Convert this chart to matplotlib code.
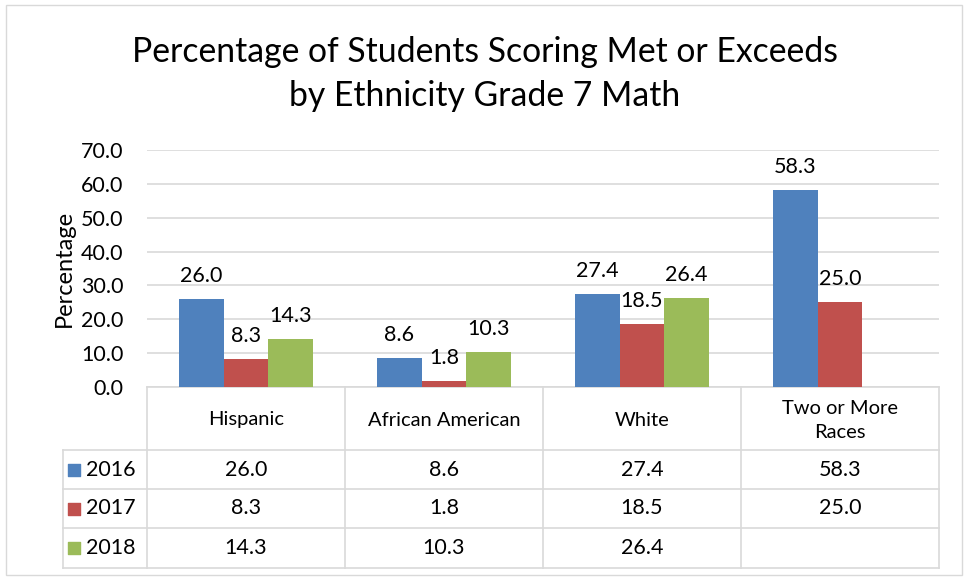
"""
grade 7 math met/exceeds by ethnicity - bar chart with data table
"""
import matplotlib
matplotlib.use("Agg")
import matplotlib.pyplot as plt
import numpy as np

categories = ["Hispanic", "African American", "White", "Two or More\nRaces"]
years = ["2016", "2017", "2018"]
vals_2016 = [26.0, 8.6, 27.4, 58.3]
vals_2017 = [8.3, 1.8, 18.5, 25.0]
vals_2018 = [14.3, 10.3, 26.4, np.nan]
series = [vals_2016, vals_2017, vals_2018]
colors = ["#4F81BD", "#C0504D", "#9BBB59"]
yticks = [0, 10, 20, 30, 40, 50, 60, 70]

plt.rcParams["font.family"] = ["Lato", "DejaVu Sans"]
grid_col = "#D9D9D9"
W, H = 969, 580
num_fs = 15.5
word_fs = 14.5

fig = plt.figure(figsize=(W / 100, H / 100), dpi=100)
fig.patch.set_facecolor("white")
fig.add_artist(plt.Rectangle((6 / W, 5 / H), 956 / W, 570 / H, transform=fig.transFigure,
                             fill=False, edgecolor=grid_col, lw=1))

# plot area (pixels) 147..939 x 150..387
ax = fig.add_axes([147 / W, 1 - 387 / H, 792 / W, 237 / H])
x = np.arange(len(categories))
bw = 0.225
for i, (vals, c) in enumerate(zip(series, colors)):
    pos = x + (i - 1) * bw
    ax.bar(pos, vals, bw, color=c, zorder=3)
    for p, v in zip(pos, vals):
        if not np.isnan(v):
            ax.text(p, v + 3.8, f"{v:.1f}", ha="center", va="bottom", fontsize=num_fs)

ax.set_xlim(-0.5, 3.5)
ax.set_ylim(0, 70)
ax.set_yticks(yticks)
ax.set_yticklabels([f"{t:.1f}" for t in yticks], fontsize=num_fs)
ax.set_xticks([])
ax.tick_params(axis="y", length=0, pad=17)
ax.grid(axis="y", color=grid_col, lw=1.2, zorder=0)
for s in ["top", "right", "left"]:
    ax.spines[s].set_visible(False)
ax.spines["bottom"].set_color(grid_col)
ax.spines["bottom"].set_linewidth(1.2)
ax.set_ylabel("Percentage", fontsize=17, labelpad=4)

fig.text(0.5, 1 - 52 / H, "Percentage of Students Scoring Met or Exceeds",
         ha="center", va="center", fontsize=24.3)
fig.text(0.5, 1 - 96 / H, "by Ethnicity Grade 7 Math",
         ha="center", va="center", fontsize=24.3)

# data table below the plot, same category scale as the bars
tb = fig.add_axes([62.5 / W, 1 - 568 / H, 876.5 / W, 181 / H])
tb.set_xlim(-0.5 - 84.5 / 198, 3.5)
tb.set_ylim(181, 0)
tb.axis("off")
row_lines = [63, 102, 141, 180.5]
x_left = -0.5 - 84.5 / 198
for yl in row_lines:
    tb.plot([x_left, 3.5], [yl, yl], color=grid_col, lw=1.2, clip_on=False)
for xb in np.arange(len(categories) + 1) - 0.5:
    tb.plot([xb, xb], [0, 180.5], color=grid_col, lw=1.2, clip_on=False)
tb.plot([x_left, x_left], [63, 180.5], color=grid_col, lw=1.2, clip_on=False)

for i, name in enumerate(categories):
    tb.text(i, 33, name, ha="center", va="center", fontsize=word_fs, linespacing=1.5)

row_mid = [82.5, 121.5, 161]
for yr, vals, c, ym in zip(years, series, colors, row_mid):
    tb.scatter([x_left + 0.06], [ym], marker="s", s=80, color=c, clip_on=False)
    tb.text(x_left + 0.12, ym, yr, ha="left", va="center", fontsize=num_fs)
    for i, v in enumerate(vals):
        if not np.isnan(v):
            tb.text(i, ym, f"{v:.1f}", ha="center", va="center", fontsize=num_fs)

fig.savefig("out.png", dpi=100)
